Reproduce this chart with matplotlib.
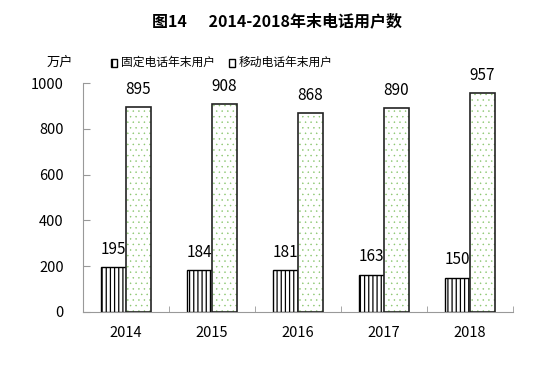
import numpy as np
import matplotlib
matplotlib.use("Agg")
import matplotlib.pyplot as plt
from matplotlib.patches import Rectangle

plt.rcParams['font.family'] = ['Noto Sans CJK SC', 'DejaVu Sans']
plt.rcParams['hatch.linewidth'] = 0.9

years = ['2014', '2015', '2016', '2017', '2018']
fixed = [195, 184, 181, 163, 150]
mobile = [895, 908, 868, 890, 957]

fig = plt.figure(figsize=(5.54, 3.78), dpi=100)
ax = fig.add_axes([0.150, 0.175, 0.776, 0.605])

x = np.arange(len(years))
w = 0.29

# fixed-line: vertical stripes
ax.bar(x - w/2, fixed, w, facecolor='white', edgecolor='black',
       hatch='||||', linewidth=1.0, zorder=2)
# mobile: small green dots, dark outline
dots = ax.bar(x + w/2, mobile, w, facecolor='white', edgecolor='#86c46a',
              hatch='...', linewidth=0, zorder=2)
for p in dots:
    if hasattr(p, 'set_hatch_linewidth'):
        p.set_hatch_linewidth(0.3)
ax.bar(x + w/2, mobile, w, fill=False, edgecolor='#222222',
       linewidth=1.2, zorder=3)

for i in range(len(years)):
    ax.text(x[i] - w/2, fixed[i] + 40, str(fixed[i]), ha='center',
            va='bottom', fontsize=11)
    ax.text(x[i] + w/2, mobile[i] + 40, str(mobile[i]), ha='center',
            va='bottom', fontsize=11)

ax.set_xlim(-0.5, len(years) - 0.5)
ax.set_ylim(0, 1000)
ax.set_yticks(np.arange(0, 1001, 200))
ax.set_xticks(x)
ax.set_xticklabels(years, fontsize=10.5)
ax.set_xticks(np.arange(-0.5, len(years), 1), minor=True)
ax.tick_params(axis='x', which='major', length=0, pad=10)
ax.tick_params(axis='x', which='minor', direction='in', length=4,
               color='#999999')
ax.tick_params(axis='y', direction='in', length=5, color='#999999',
               labelsize=10.5, pad=14)

for s in ['top', 'right']:
    ax.spines[s].set_visible(False)
for s in ['left', 'bottom']:
    ax.spines[s].set_color('#999999')

fig.text(0.5, 0.945, '图14      2014-2018年末电话用户数', ha='center',
         va='center', fontsize=11.5, fontweight='bold')
fig.text(0.108, 0.835, '万户', ha='center', va='center', fontsize=9.5)

# legend
fig.patches.append(Rectangle((0.200, 0.824), 0.012, 0.02, transform=fig.transFigure,
                             facecolor='white', edgecolor='black', hatch='||', lw=1))
fig.text(0.218, 0.835, '固定电话年末用户', ha='left', va='center', fontsize=8.5)
fig.patches.append(Rectangle((0.413, 0.824), 0.012, 0.02, transform=fig.transFigure,
                             facecolor='white', edgecolor='black', lw=1))
fig.text(0.431, 0.835, '移动电话年末用户', ha='left', va='center', fontsize=8.5)

fig.savefig('out.png', dpi=100)
